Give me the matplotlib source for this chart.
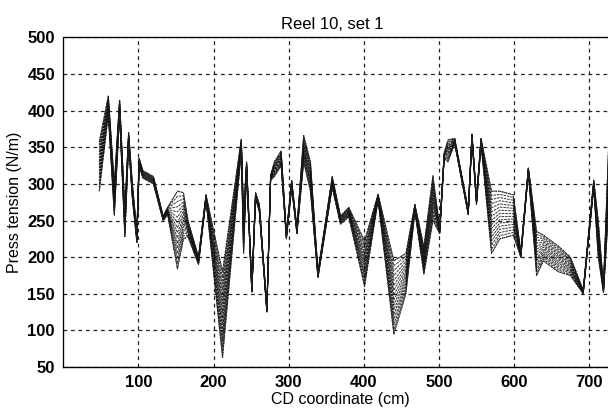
import numpy as np
import matplotlib
matplotlib.use("Agg")
import matplotlib.pyplot as plt

# CD coordinate (cm) of profile vertices
cd_cm = [48, 60, 68, 75, 82, 87, 92, 98, 101, 106, 120, 133, 139, 152, 160, 166,
         180, 190, 212, 237, 240, 244, 251, 256, 261, 271, 276, 281, 290, 297,
         304, 311, 320, 329, 339, 358, 369, 380, 401, 419, 440, 456, 468, 480,
         492, 501, 507, 512, 521, 539, 544, 550, 556, 570, 581, 599, 609, 619,
         630, 639, 659, 675, 692, 706, 712, 719, 728]
# lower envelope of the set of press tension profiles (N/m)
tension_low = [290, 395, 257, 395, 228, 355, 280, 220, 325, 308, 300, 250, 258, 184, 225, 228,
               190, 278, 63, 345, 205, 318, 152, 280, 262, 125, 305, 310, 325, 225,
               295, 232, 330, 290, 172, 295, 245, 255, 160, 278, 95, 150, 262, 177,
               250, 232, 335, 330, 355, 258, 362, 272, 355, 205, 225, 230, 200, 315,
               175, 195, 180, 175, 150, 295, 200, 152, 300]
# upper envelope of the set of press tension profiles (N/m)
tension_high = [357, 420, 300, 415, 265, 370, 300, 235, 335, 318, 310, 256, 268, 290, 288, 250,
                200, 285, 180, 361, 260, 330, 160, 288, 272, 132, 312, 330, 345, 232,
                305, 240, 366, 330, 180, 310, 256, 268, 222, 286, 195, 205, 272, 214,
                311, 240, 342, 360, 362, 265, 368, 280, 362, 290, 290, 285, 207, 322,
                235, 230, 215, 200, 155, 305, 250, 160, 414]
n_profiles = 16

x_ticks = [100, 200, 300, 400, 500, 600, 700]
y_ticks = [50, 100, 150, 200, 250, 300, 350, 400, 450, 500]

plt.rcParams['font.family'] = ['Liberation Sans', 'DejaVu Sans']

fig = plt.figure(figsize=(6.08, 4.12), dpi=100)
ax = fig.add_axes([0.104, 0.109, 0.896, 0.8005])

x = np.array(cd_cm, dtype=float)
lo = np.array(tension_low, dtype=float)
hi = np.array(tension_high, dtype=float)
for k in range(n_profiles):
    t = k / (n_profiles - 1)
    ax.plot(x, lo + t * (hi - lo), color='#111111', lw=0.75, alpha=0.8,
            ls=(0, (2.5, 0.8)))
ax.plot(x, lo, color='#222222', lw=0.7, ls=(0, (1.2, 1)))
ax.plot(x, hi, color='#222222', lw=0.7, ls=(0, (1.2, 1)))

ax.set_xlim(0, 725)
ax.set_ylim(50, 500)
ax.set_xticks(x_ticks)
ax.set_yticks(y_ticks)
ax.tick_params(length=0, labelsize=12, pad=6)
for lab in ax.get_xticklabels() + ax.get_yticklabels():
    lab.set_fontweight('bold')

ax.grid(True, color='#222222', lw=0.9, ls=(0, (3, 3)))
ax.set_axisbelow(True)
for s in ['left', 'top']:
    ax.spines[s].set_linestyle((0, (1, 0.6)))
    ax.spines[s].set_linewidth(0.9)
ax.spines['bottom'].set_linewidth(1.0)
ax.spines['right'].set_visible(False)

ax.set_title('Reel 10, set 1', fontsize=12, x=0.493, pad=6)
ax.set_xlabel('CD coordinate (cm)', fontsize=11.5)
ax.xaxis.set_label_coords(0.508, -0.075)
ax.set_ylabel('Press tension (N/m)', fontsize=11.5, labelpad=4)

fig.savefig('out.png', dpi=100)
